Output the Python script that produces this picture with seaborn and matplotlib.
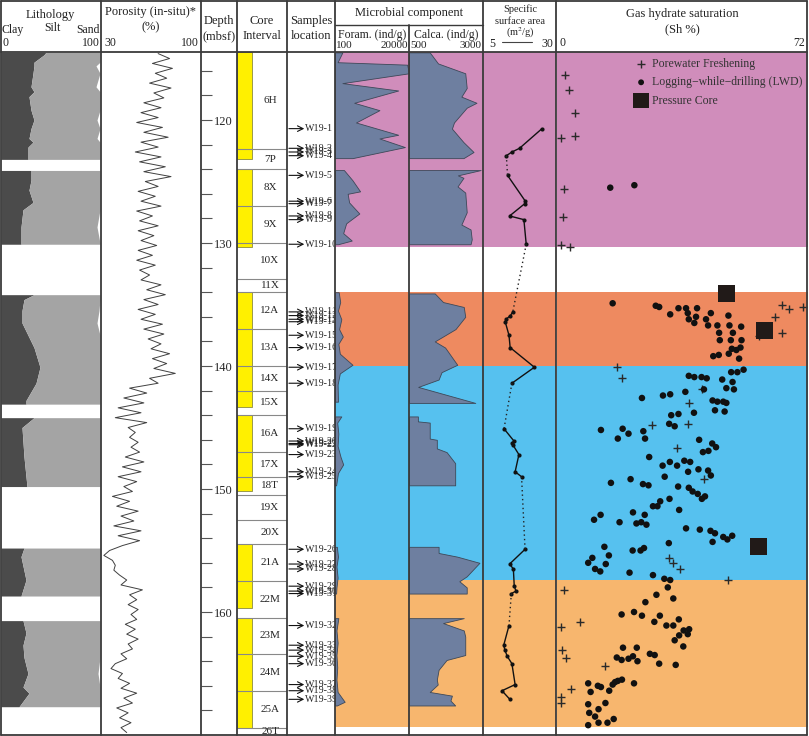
import numpy as np
import matplotlib
matplotlib.use("Agg")
import matplotlib.pyplot as plt
import seaborn as sns


# ---- data (depth in mbsf) ----

# porosity log
por_depth = [114.6, 115.0, 115.4, 115.8, 116.2, 116.6, 117.0, 117.4, 117.8, 118.2,
             118.6, 119.0, 119.4, 119.8, 120.2, 120.6, 121.0, 121.4, 121.8, 122.2,
             122.6, 123.0, 123.4, 123.8, 124.2, 124.6, 125.0, 125.4, 125.8, 126.2,
             126.6, 127.0, 127.4, 127.8, 128.2, 128.6, 129.0, 129.4, 129.8, 130.2,
             130.6, 131.0, 131.4, 131.8, 132.2, 132.6, 133.0, 133.4, 133.8, 134.2,
             134.6, 135.0, 135.4, 135.8, 136.2, 136.6, 137.0, 137.4, 137.8, 138.2,
             138.6, 139.0, 139.4, 139.8, 140.2, 140.6, 141.0, 141.4, 141.8, 142.2,
             142.6, 143.0, 143.4, 143.8, 144.2, 144.6, 145.0, 145.4, 145.8, 146.2,
             146.6, 147.0, 147.4, 147.8, 148.2, 148.6, 149.0, 149.4, 149.8, 150.2,
             150.6, 151.0, 151.4, 151.8, 152.2, 152.6, 153.0, 153.4, 153.8, 154.2,
             154.6, 155.0, 155.4, 155.8, 156.2, 156.6, 157.0, 157.4, 157.8, 158.2,
             158.6, 159.0, 159.4, 159.8, 160.2, 160.6, 161.0, 161.4, 161.8, 162.2,
             162.6, 163.0, 163.4, 163.8, 164.2, 164.6, 165.0, 165.4, 165.8, 166.2,
             166.6, 167.0, 167.4, 167.8, 168.2, 168.6, 169.0, 169.4, 169.8]
por_value = [70, 78, 66, 80, 68, 76, 64, 79, 67, 74,
             60, 72, 58, 70, 55, 73, 60, 77, 58, 70,
             54, 72, 57, 75, 60, 79, 61, 70, 56, 68,
             58, 72, 55, 66, 57, 70, 56, 67, 58, 69,
             56, 66, 55, 68, 57, 64, 58, 72, 62, 75,
             60, 70, 56, 68, 58, 73, 60, 74, 63, 72,
             65, 78, 66, 76, 67, 82, 64, 70, 50, 62,
             46, 60, 42, 58, 40, 62, 49, 54, 50, 56,
             51, 57, 47, 60, 45, 58, 42, 55, 46, 52,
             38, 50, 41, 56, 44, 53, 39, 58, 42, 57,
             45, 36, 32, 38, 40, 39, 43, 48, 44, 59,
             50, 55, 49, 56, 51, 55, 47, 54, 48, 56,
             49, 52, 44, 48, 40, 37, 45, 42, 50, 44,
             55, 46, 52, 41, 49, 43, 51, 44, 48]

# lithology (None separates recovered blocks)
lith_depth = [114.5, 114.7, 115.3, 115.6, 116.2, 117.3, 117.7, 118.1, 119.2, 120.0, 120.7, 121.5, 121.8, 122.2, 123.1, 123.2, None,
              124.1, 124.9, 125.7, 126.7, 127.3, 128.7, 130.0, 130.1, None,
              134.2, 134.6, 135.5, 136.5, 137.5, 138.5, 140.1, 141.4, 142.8, 143.1, None,
              144.2, 145.0, 147.4, 149.8, None,
              154.8, 155.5, 157.4, 158.7, None,
              160.7, 161.7, 162.7, 163.7, 165.0, 166.1, 166.6, 167.7]
lith_clay = [45, 43, 33, 33, 32, 30, 33, 28, 30, 33, 30, 28, 32, 27, 27, 27, None,
             30, 30, 28, 32, 22, 20, 20, 20, None,
             33, 23, 21, 21, 27, 33, 39, 35, 25, 25, None,
             33, 21, 23, 26, None,
             23, 20, 25, 20, None,
             22, 25, 22, 23, 27, 22, 28, 18]
lith_sand = [99, 99, 99, 95, 99, 95, 99, 99, 99, 96, 99, 96, 99, 99, 99, 99, None,
             99, 99, 99, 99, 99, 96, 99, 99, None,
             99, 99, 98, 96, 99, 99, 99, 99, 99, 99, None,
             99, 99, 99, 99, None,
             99, 99, 99, 99, None,
             99, 99, 99, 99, 97, 99, 99, 99]

# cores
core_name = ["6H", "7P", "8X", "9X", "10X", "11X", "12A", "13A", "14X", "15X", "16A", "17X", "18T",
             "19X", "20X", "21A", "22M", "23M", "24M", "25A", "26T"]
core_top = [114.47, 122.36, 124.0, 127.0, 130.0, 132.9, 134.0, 137.0, 140.0, 142.0, 144.0, 147.0, 149.0,
            150.5, 152.5, 154.5, 157.5, 160.5, 163.4, 166.4, 169.4]
core_bottom = core_top[1:] + [170.0]
rec_top = [114.47, 124.0, 134.0, 144.0, 154.5, 160.5]
rec_bottom = [123.2, 130.3, 143.3, 150.2, 159.7, 169.4]

# samples and specific surface area (m2/g)
sample_name = ["W19-%d" % i for i in range(1, 40)]
sample_depth = [120.7, 122.3, 122.6, 122.9, 124.5, 126.6, 126.8, 127.8, 128.1, 130.1,
                135.6, 135.9, 136.2, 136.4, 137.5, 138.5, 140.1, 141.4,
                145.1, 146.1, 146.3, 146.4, 147.2, 148.6, 149.0,
                154.9, 156.1, 156.5, 157.9, 158.3, 158.5,
                161.1, 162.7, 163.1, 163.6, 164.2, 165.9, 166.4, 167.1]
ssa_value = [25.2, 17.5, 14.9, 13.0, 13.4, 19.5, 19.3, 14.1, 19.0, 19.8,
             15.2, 14.4, 12.9, 12.6, 13.9, 14.3, 22.6, 14.9,
             12.2, 15.6, 14.9, 15.2, 17.3, 16.0, 18.2,
             19.4, 14.1, 15.4, 15.7, 16.3, 14.7,
             13.9, 12.1, 12.5, 13.3, 14.9, 16.0, 11.5, 14.2]
ssa_group = [1, 1, 1, 1, 2, 2, 2, 2, 2, 2,
             3, 3, 3, 3, 3, 3, 3, 3,
             4, 4, 4, 4, 4, 4, 4,
             5, 5, 5, 5, 5, 5,
             6, 6, 6, 6, 6, 6, 6, 6]

# microbial component (ind/g)
foram_depth = [114.5, 115.3, 115.5, 116.2, 117.0, 117.6, 118.6, 119.2, 120.2, 121.2, 121.5, 122.2, 123.1, None,
               124.07, 124.9, 125.8, 126.0, 126.7, 127.6, 128.4, 129.2, 129.8, 130.1, None,
               134.0, 134.8, 135.5, 136.2, 137.0, 137.6, 138.2, 139.0, 139.9, 140.6, 141.5, 142.9, None,
               144.1, 144.6, 145.5, 146.5, 147.4, 148.0, 148.7, 149.7, None,
               154.7, 155.5, 156.3, 157.2, 158.0, 158.5, None,
               160.5, 161.5, 162.5, 163.5, 164.5, 165.5, 166.5, 167.3, 167.6]
foram_value = [2090, 800, 19500, 20000, 2090, 17100, 5260, 12050, 5740, 17100, 12050, 18900, 4800, None,
               2500, 4800, 6850, 3500, 3900, 6640, 3100, 2300, 4600, 900, None,
               1100, 1500, 900, 1800, 1200, 2200, 1000, 1400, 4800, 1400, 800, 900, None,
               1800, 700, 1000, 800, 1600, 2300, 900, 400, None,
               600, 900, 500, 800, 500, 400, None,
               1000, 500, 800, 500, 700, 500, 800, 2700, 600]
calca_depth = [114.5, 115.4, 116.2, 117.4, 118.1, 118.6, 119.0, 120.2, 120.7, 121.8, 122.6, 123.1, None,
               124.07, 124.5, 124.7, 125.4, 125.9, 127.5, 128.5, 128.9, 129.7, 130.1, None,
               134.1, 134.8, 135.2, 136.0, 137.0, 138.0, 138.5, 139.9, 140.5, 141.1, 141.7, 143.0, None,
               144.1, 144.5, 144.6, 145.9, 146.0, 146.7, 147.0, 147.9, 149.7, None,
               154.7, 155.2, 155.5, 156.0, 157.1, 157.5, 158.0, 158.5, None,
               160.5, 160.9, 161.5, 162.0, 163.5, 163.9, 164.7, 165.5, 165.9, 166.5, 166.8, 167.2, 167.6]
calca_value = [1200, 1480, 2400, 2450, 2270, 2780, 2450, 2020, 1950, 2340, 2680, 2340, None,
               2920, 2150, 2340, 2140, 2400, 2450, 2270, 2580, 2620, 2580, None,
               1370, 1650, 2350, 2400, 2070, 1370, 1720, 2130, 1600, 1500, 810, 2740, None,
               800, 800, 1200, 1200, 1440, 1440, 1770, 2060, 2060, None,
               1500, 1500, 2130, 2880, 2450, 2200, 2450, 2450, None,
               2350, 1650, 2350, 2400, 2400, 1770, 1500, 1440, 1470, 1200, 1950, 1900, 2060]

# background zones
zone_top = [114.47, 133.98, 140.0, 157.4]
zone_bottom = [130.3, 140.0, 157.4, 169.35]
zone_color = ["#D08DBB", "#EE8A60", "#56C1EF", "#F7B66E"]

# gas hydrate saturation (Sh %)
pw_sh = [2.3, 3.3, 5.0, 1.1, 5.0, 2.0, 1.6, 1.1, 3.6, 65.1, 67.1, 71.2, 63.0, 65.2, 58.5, 17.4, 18.6,
         41.8, 38.2, 27.5, 37.9, 34.6, 42.5, 32.3, 33.6, 35.5, 49.4, 1.8, 6.5, 0.9, 1.2, 2.5, 13.7, 4.0, 0.9, 1.1]
pw_depth = [116.3, 117.6, 119.4, 121.5, 121.3, 125.6, 127.9, 130.2, 130.3, 135.0, 135.4, 135.2, 136.0, 137.3, 137.6, 140.1, 141.0,
            141.9, 143.0, 144.8, 144.7, 146.7, 149.2, 155.6, 156.0, 156.5, 157.4, 158.2, 160.8, 161.2, 163.1, 163.7, 164.4, 166.3, 166.9, 167.4]
lwd_sh = [15.3, 22.3, 16.0, 28.5, 29.5, 32.7, 35.1, 37.3, 37.8, 40.5, 38.1, 40.2, 39.7, 44.5, 43.1, 43.7, 46.4, 49.6, 49.9, 53.3,
          46.9, 50.9, 47.1, 50.3, 53.4, 50.6, 51.9, 53.1, 49.7, 46.8, 45.2, 52.7, 50.4, 52.2, 54.0, 38.1, 39.7, 41.8, 43.3, 47.8,
          50.8, 42.5, 49.0, 51.2, 24.5, 30.6, 32.7, 37.1, 45.0, 46.4, 48.1, 49.0, 45.7, 48.5, 33.0, 35.1, 39.6, 12.6, 18.9, 20.6,
          17.5, 24.9, 25.4, 32.4, 34.0, 41.1, 44.9, 46.0, 42.2, 43.8, 26.6, 30.5, 32.6, 34.7, 36.8, 38.5, 37.9, 40.9, 43.7, 44.5,
          31.1, 15.5, 21.2, 24.8, 26.4, 35.0, 38.1, 39.2, 40.7, 41.9, 42.8, 29.8, 27.7, 29.0, 32.5, 35.3, 10.6, 12.5, 18.0, 21.9,
          22.9, 24.3, 25.3, 25.8, 37.3, 41.3, 44.4, 45.7, 45.0, 48.1, 49.3, 50.7, 32.3, 13.6, 14.9, 10.1, 8.9, 14.0, 10.9, 12.4,
          21.8, 24.1, 25.1, 20.9, 27.7, 31.0, 32.7, 32.0, 28.7, 33.6, 25.5, 18.6, 22.2, 24.5, 29.7, 28.1, 35.2, 31.6, 33.6, 36.6,
          38.2, 37.8, 35.3, 34.0, 36.5, 19.0, 23.0, 17.2, 18.6, 20.6, 21.9, 23.2, 26.8, 28.2, 29.5, 34.3, 8.9, 11.7, 12.6, 9.6,
          15.0, 16.0, 16.7, 17.5, 18.7, 22.2, 13.9, 8.9, 11.9, 9.2, 10.9, 8.9, 11.9, 14.5, 16.3]
lwd_depth = [125.5, 125.3, 134.9, 135.1, 135.2, 135.8, 135.3, 135.3, 135.7, 135.3, 136.2, 136.0, 136.5, 135.7, 136.2, 136.7, 136.7, 135.9, 136.7, 136.8,
             137.3, 137.3, 137.9, 137.9, 137.9, 138.6, 138.7, 138.5, 139.0, 139.1, 139.2, 139.4, 140.5, 140.5, 140.3, 140.8, 140.9, 140.9, 141.0, 141.1,
             141.3, 141.9, 141.8, 141.9, 142.6, 142.4, 142.3, 142.1, 142.8, 142.9, 142.9, 143.0, 143.6, 143.7, 144.0, 143.9, 143.8, 145.2, 145.1, 145.5,
             145.9, 145.3, 145.9, 144.7, 144.9, 146.0, 146.3, 146.6, 147.0, 146.9, 147.4, 148.1, 147.8, 148.1, 147.7, 147.8, 148.6, 148.4, 148.5, 148.9,
             149.0, 149.5, 149.2, 149.6, 149.7, 149.8, 149.9, 150.2, 150.4, 150.8, 150.6, 151.0, 151.4, 151.4, 150.8, 151.7, 152.5, 152.1, 152.7, 151.9,
             152.8, 152.7, 152.1, 152.9, 153.2, 153.3, 153.4, 153.6, 154.3, 153.9, 154.1, 153.8, 154.4, 154.7, 155.4, 155.6, 156.0, 156.1, 156.5, 156.7,
             155.0, 155.0, 154.8, 156.8, 157.0, 157.3, 157.4, 158.0, 158.6, 158.9, 159.2, 160.2, 160.0, 160.3, 160.3, 160.8, 160.6, 161.1, 161.1, 161.5,
             161.4, 161.8, 161.9, 162.3, 162.8, 162.9, 162.9, 163.7, 163.9, 163.8, 163.6, 164.0, 163.4, 163.5, 164.2, 164.3, 165.8, 166.0, 166.1, 166.5,
             166.4, 165.9, 165.7, 165.6, 165.5, 165.8, 167.4, 167.5, 167.9, 168.2, 168.5, 169.2, 169.0, 169.0, 168.7]
pc_sh = [49.0, 60.1, 58.2]
pc_depth = [134.1, 137.1, 154.7]

depth_ticks = list(range(116, 170, 2))


# ---- layout helpers ----
W, H = 809, 736
TOP, BOT = 52, 735
D_TOP, D_BOT = 114.47, 170.0
LINE = "#3a3a3a"
FILL = "#6E7FA0"

sns.set_style("white")
plt.rcParams['font.family'] = ['Liberation Serif', 'DejaVu Serif']
plt.rcParams['mathtext.fontset'] = 'stix'

fig = plt.figure(figsize=(W / 100, H / 100), dpi=100)


def panel(x0, x1, xlim):
    ax = fig.add_axes([x0 / W, 1 - BOT / H, (x1 - x0) / W, (BOT - TOP) / H])
    ax.set_axis_off()
    ax.set_xlim(*xlim)
    ax.set_ylim(D_BOT, D_TOP)
    return ax


def blocks(depth, *vals):
    # split lists at None markers
    out, cur = [], [[] for _ in range(len(vals) + 1)]
    for i, d in enumerate(depth):
        if d is None:
            out.append([np.array(c, dtype=float) for c in cur])
            cur = [[] for _ in range(len(vals) + 1)]
            continue
        cur[0].append(d)
        for k, v in enumerate(vals):
            cur[k + 1].append(v[i])
    out.append([np.array(c, dtype=float) for c in cur])
    return out


def zones(ax):
    for t, b, c in zip(zone_top, zone_bottom, zone_color):
        ax.axhspan(t, b, color=c, lw=0, zorder=0)


# Lithology
ax = panel(1, 101, (0, 100))
for d, clay, sand in blocks(lith_depth, lith_clay, lith_sand):
    ax.fill_betweenx(d, 0, clay, color="#4B4B4B", lw=0)
    ax.fill_betweenx(d, clay, sand, color="#A4A4A4", lw=0)
ax.set_xlim(0, 100)
ax.set_ylim(D_BOT, D_TOP)

# Porosity
ax = panel(101, 201, (30, 100))
sns.lineplot(x=por_value, y=por_depth, sort=False, estimator=None, orient="y",
             color="#404040", lw=0.7, ax=ax)
ax.set_xlim(30, 100)
ax.set_ylim(D_BOT, D_TOP)
ax.set_axis_off()

# Depth scale
ax = fig.add_axes([201 / W, 1 - BOT / H, 36 / W, (BOT - TOP) / H])
ax.set_ylim(D_BOT, D_TOP)
for s in ax.spines.values():
    s.set_visible(False)
ax.set_xticks([])
ax.set_yticks(depth_ticks)
ax.set_yticklabels([str(t) if t % 10 == 0 else "" for t in depth_ticks])
ax.tick_params(axis="y", left=True, direction="in", length=8, width=0.8, color="#555",
               pad=-9, labelsize=9)
for lab in ax.get_yticklabels():
    lab.set_ha("left")

# Core interval
ax = panel(237, 287, (0, 1))
rec_mid = [(t + b) / 2 for t, b in zip(rec_top, rec_bottom)]
rec_len = [b - t for t, b in zip(rec_top, rec_bottom)]
ax.barh(rec_mid, 0.3, height=rec_len, left=0, color="#FFF000", edgecolor="#8B8B40", lw=0.6)
ax.hlines(core_top[1:], 0, 1, color="#888", lw=0.8)
for n, t, b in zip(core_name, core_top, core_bottom):
    ax.text(0.66, (t + b) / 2, n, ha="center", va="center", fontsize=8, clip_on=True)
ax.set_ylim(D_BOT, D_TOP)

# Samples location
ax = panel(287, 335, (0, 1))
for n, d in zip(sample_name, sample_depth):
    ax.annotate("", xy=(0.36, d), xytext=(0.04, d),
                arrowprops=dict(arrowstyle="->", lw=0.8, color="#111", shrinkA=0, shrinkB=0))
    ax.text(0.37, d, n, ha="left", va="center", fontsize=7.2, clip_on=False)

# Foraminifera
ax = panel(335, 409, (100, 20000))
zones(ax)
for d, v in blocks(foram_depth, foram_value):
    ax.fill_betweenx(d, 100, v, color=FILL, edgecolor="#3d4858", lw=0.6, zorder=2)

# Calcareous nannofossils
ax = panel(409, 483, (500, 3000))
zones(ax)
for d, v in blocks(calca_depth, calca_value):
    ax.fill_betweenx(d, 500, v, color=FILL, edgecolor="#3d4858", lw=0.6, zorder=2)

# Specific surface area
ax = panel(483, 556, (5, 30))
zones(ax)
sd = np.array(sample_depth)
sv = np.array(ssa_value)
sg = np.array(ssa_group)
for g in sorted(set(ssa_group)):
    m = sg == g
    sns.lineplot(x=sv[m], y=sd[m], sort=False, estimator=None, orient="y", color="#111",
                 lw=1.0, marker="o", markersize=3, markeredgewidth=0, ax=ax)
    if g > 1:
        prev = np.where(sg == g - 1)[0][-1]
        first = np.where(m)[0][0]
        ax.plot([sv[prev], sv[first]], [sd[prev], sd[first]], color="#222", lw=1.0, ls=(0, (1, 2.2)))
ax.set_xlim(5, 30)
ax.set_ylim(D_BOT, D_TOP)
ax.set_axis_off()

# Gas hydrate saturation
ax = panel(556.5, 808, (-0.3, 72.7))
zones(ax)
sns.scatterplot(x=pw_sh, y=pw_depth, marker="+", s=40, color="#2a2a2a", linewidth=1.0,
                label="Porewater Freshening", ax=ax, zorder=3)
sns.scatterplot(x=lwd_sh, y=lwd_depth, marker="o", s=22, color="#111", edgecolor="none",
                label="Logging\u2212while\u2212drilling (LWD)", ax=ax, zorder=3)
sns.scatterplot(x=pc_sh, y=pc_depth, marker="s", s=150, color="#211A18", edgecolor="none",
                label="Pressure Core", ax=ax, zorder=3)
ax.set_xlim(-0.3, 72.7)
ax.set_ylim(D_BOT, D_TOP)
ax.set_axis_off()
leg = ax.legend(loc="upper right", frameon=False, fontsize=8.5, handletextpad=0.3,
                handlelength=1.2, borderaxespad=0.1, labelspacing=0.55, markerscale=0.9)
for t in leg.get_texts():
    t.set_color("#333")

# ---- frame and header ----
ov = fig.add_axes([0, 0, 1, 1], zorder=10)
ov.set_xlim(0, W)
ov.set_ylim(H, 0)
ov.set_axis_off()
ov.patch.set_alpha(0)

edges = [1, 101, 201, 237, 287, 335, 483, 556, 807]
for x in edges:
    ov.plot([x, x], [1, BOT], color=LINE, lw=1.3)
ov.plot([409, 409], [25, BOT], color=LINE, lw=1.3)
ov.plot([1, 807], [1, 1], color=LINE, lw=1.3)
ov.plot([1, 807], [TOP, TOP], color=LINE, lw=1.3)
ov.plot([1, 807], [BOT, BOT], color=LINE, lw=1.3)
ov.plot([335, 483], [25, 25], color=LINE, lw=1.0)

hk = dict(ha="center", va="center", fontsize=9, color="#222")
sk = dict(va="center", fontsize=8.5, color="#222")
ov.text(50, 15, "Lithology", **hk)
ov.text(2, 30, "Clay", ha="left", **sk)
ov.text(52, 28, "Silt", ha="center", **sk)
ov.text(100, 30, "Sand", ha="right", **sk)
ov.text(3, 43, "0", ha="left", **sk)
ov.text(100, 43, "100", ha="right", **sk)

ov.text(151, 12, "Porosity (in-situ)*", **hk)
ov.text(151, 27, "(%)", **hk)
ov.text(104, 43, "30", ha="left", **sk)
ov.text(199, 43, "100", ha="right", **sk)

ov.text(219, 21, "Depth", **hk)
ov.text(219, 36, "(mbsf)", **hk)
ov.text(262, 21, "Core", **hk)
ov.text(262, 36, "Interval", **hk)
ov.text(311, 21, "Samples", **hk)
ov.text(311, 36, "location", **hk)

ov.text(409, 13, "Microbial component", **hk)
ov.text(372, 35, "Foram. (ind/g)", ha="center", **sk)
ov.text(336, 46, "100", ha="left", fontsize=8, va="center")
ov.text(408, 46, "20000", ha="right", fontsize=8, va="center")
ov.text(446, 35, "Calca. (ind/g)", ha="center", **sk)
ov.text(410, 46, "500", ha="left", fontsize=8, va="center")
ov.text(482, 46, "3000", ha="right", fontsize=8, va="center")

ov.text(520, 9, "Specific", ha="center", va="center", fontsize=7.5)
ov.text(520, 21, "surface area", ha="center", va="center", fontsize=7.5)
ov.text(520, 33, "(m$^2$/g)", ha="center", va="center", fontsize=7.5)
ov.text(489, 44, "5", ha="left", **sk)
ov.text(553, 44, "30", ha="right", **sk)
ov.plot([502, 532], [42, 42], color="#444", lw=0.8)

ov.text(682, 14, "Gas hydrate saturation", **hk)
ov.text(682, 29, "(Sh %)", **hk)
ov.text(560, 43, "0", ha="left", **sk)
ov.text(805, 43, "72", ha="right", **sk)

fig.savefig("out.png", dpi=100)
